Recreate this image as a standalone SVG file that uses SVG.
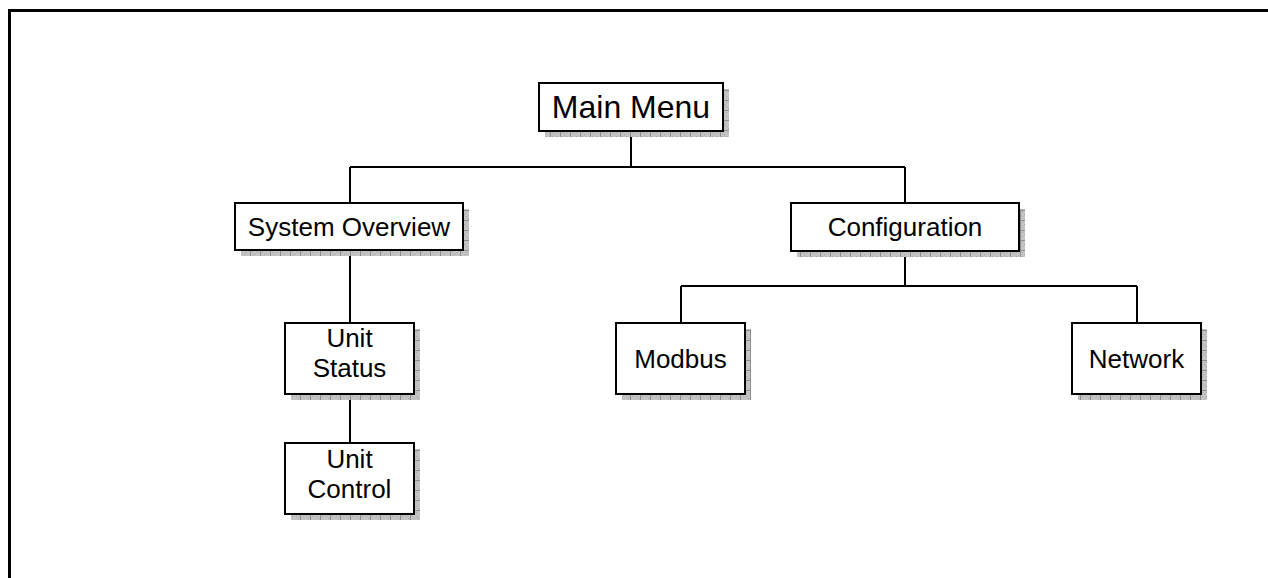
<svg xmlns="http://www.w3.org/2000/svg" width="1268" height="578" viewBox="0 0 1268 578">
<defs>
<pattern id="hatch" width="10" height="10" patternUnits="userSpaceOnUse">
<rect width="10" height="10" fill="#c4c4c4"/>
<rect x="0" y="0" width="1" height="1" fill="#a0a0a0"/>
<rect x="2" y="2" width="1" height="1" fill="#a0a0a0"/>
<rect x="4" y="4" width="1" height="1" fill="#a0a0a0"/>
<rect x="6" y="6" width="1" height="1" fill="#a0a0a0"/>
<rect x="8" y="8" width="1" height="1" fill="#a0a0a0"/>
<rect x="2" y="6" width="1" height="1" fill="#aaa"/>
<rect x="6" y="2" width="1" height="1" fill="#aaa"/>
<path d="M0 0.5H10M0.5 0V10" stroke="#8c8c8c" stroke-width="1"/>
</pattern>
</defs>
<style>
.shadow{fill:url(#hatch);}
.box{fill:#fff;stroke:#000;stroke-width:2;}
.lbl{font-family:"Liberation Sans",Arial,sans-serif;font-size:26px;fill:#000;text-anchor:middle;}
.conn{fill:none;stroke:#000;stroke-width:2;}
</style>
<rect width="1268" height="578" fill="#fff"/>
<path d="M9.5 578V10.5H1268" fill="none" stroke="#000" stroke-width="3"/>
<g id="connectors">
<path class="conn" d="M631 131V167M350 167H905M350 167V203M905 167V203"/>
<path class="conn" d="M350 250V323M350 394V443"/>
<path class="conn" d="M905 251V286M681 286H1137M681 286V323M1137 286V323"/>
</g>
<g id="main-menu">
<rect class="shadow" x="545" y="89" width="184" height="48"/>
<rect class="box" x="539" y="83" width="184" height="48"/>
<text class="lbl" x="631" y="118" style="font-size:32px">Main Menu</text>
</g>
<g id="system-overview">
<rect class="shadow" x="241" y="209" width="228" height="47"/>
<rect class="box" x="235" y="203" width="228" height="47"/>
<text class="lbl" x="349" y="236">System Overview</text>
</g>
<g id="configuration">
<rect class="shadow" x="797" y="209" width="228" height="48"/>
<rect class="box" x="791" y="203" width="228" height="48"/>
<text class="lbl" x="905" y="236">Configuration</text>
</g>
<g id="unit-status">
<rect class="shadow" x="291" y="329" width="129" height="71"/>
<rect class="box" x="285" y="323" width="129" height="71"/>
<text class="lbl" x="349.5" y="347">Unit</text>
<text class="lbl" x="349.5" y="377">Status</text>
</g>
<g id="unit-control">
<rect class="shadow" x="291" y="449" width="129" height="71"/>
<rect class="box" x="285" y="443" width="129" height="71"/>
<text class="lbl" x="349.5" y="468">Unit</text>
<text class="lbl" x="349.5" y="498">Control</text>
</g>
<g id="modbus">
<rect class="shadow" x="622" y="329" width="129" height="71"/>
<rect class="box" x="616" y="323" width="129" height="71"/>
<text class="lbl" x="680.5" y="368">Modbus</text>
</g>
<g id="network">
<rect class="shadow" x="1078" y="329" width="129" height="71"/>
<rect class="box" x="1072" y="323" width="129" height="71"/>
<text class="lbl" x="1136.5" y="368">Network</text>
</g>
</svg>
